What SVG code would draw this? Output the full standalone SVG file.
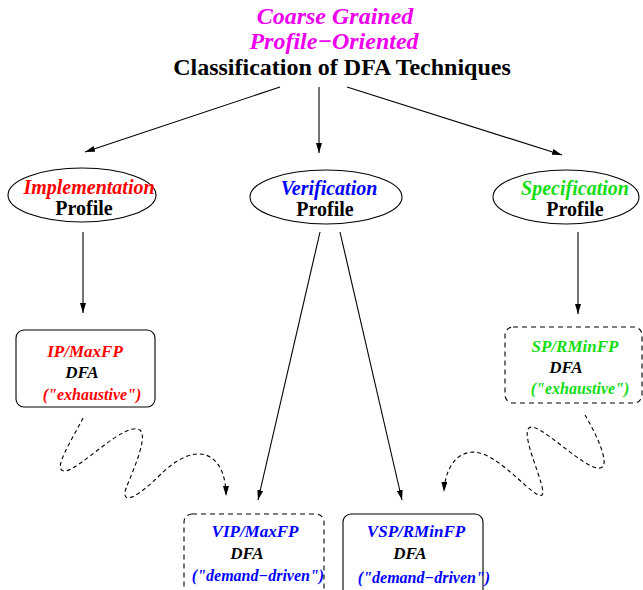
<svg xmlns="http://www.w3.org/2000/svg" width="643" height="590" viewBox="0 0 643 590">
<defs>
<marker id="ah" viewBox="0 0 10 6" refX="10" refY="3" markerWidth="10" markerHeight="6" markerUnits="userSpaceOnUse" orient="auto">
<path d="M0,0 L10,3 L0,6 Z" fill="#000"/>
</marker>
</defs>
<style>
text{font-family:"Liberation Serif","Times New Roman",serif;font-weight:bold;text-anchor:middle}
.i{font-style:italic}
.t{font-size:24px}
.e{font-size:20px}
.b{font-size:17px}
.s{font-size:16px}
.mg{fill:#ee00ee}
.rd{fill:#ff0000}
.bl{fill:#0000ff}
.gr{fill:#11dd11}
.k{fill:#000}
.shape{fill:#fff;stroke:#000;stroke-width:1.1}
.dash{stroke-dasharray:5,4}
.wdash{stroke-dasharray:4,3}
.conn{fill:none;stroke:#000;stroke-width:1.1}
</style>
<g id="title">
<text x="335" y="24" class="t i mg">Coarse Grained</text>
<text x="334" y="49" class="t i mg">Profile−Oriented</text>
<text x="342" y="75" class="t k">Classification of DFA Techniques</text>
</g>
<g id="impl">
<ellipse cx="82" cy="195" rx="74" ry="27" class="shape"/>
<text x="89" y="194" class="e i rd">Implementation</text>
<text x="84" y="215" class="e k">Profile</text>
</g>
<g id="verif">
<ellipse cx="326" cy="197" rx="76" ry="27" class="shape"/>
<text x="329" y="195" class="e i bl">Verification</text>
<text x="325" y="216" class="e k">Profile</text>
</g>
<g id="spec">
<ellipse cx="566" cy="197" rx="73" ry="27" class="shape"/>
<text x="575" y="195" class="e i gr">Specification</text>
<text x="575" y="216" class="e k">Profile</text>
</g>
<g id="ipmax">
<rect x="16" y="330" width="139" height="77" rx="8" class="shape"/>
<text x="85" y="357" class="b i rd">IP/MaxFP</text>
<text x="82" y="378" class="b i k">DFA</text>
<text x="92" y="400" class="s i rd">("exhaustive")</text>
</g>
<g id="sprmin">
<rect x="505" y="327" width="137" height="76" rx="8" class="shape dash"/>
<text x="575" y="352" class="b i gr">SP/RMinFP</text>
<text x="566" y="373" class="b i k">DFA</text>
<text x="580" y="394" class="s i gr">("exhaustive")</text>
</g>
<g id="vipmax">
<rect x="184" y="514" width="140" height="90" rx="8" class="shape dash"/>
<text x="255" y="537" class="b i bl">VIP/MaxFP</text>
<text x="247" y="559" class="b i k">DFA</text>
<text x="258" y="581" class="s i bl">("demand−driven")</text>
</g>
<g id="vsprmin">
<rect x="343" y="514" width="140" height="90" rx="8" class="shape"/>
<text x="416" y="537" class="b i bl">VSP/RMinFP</text>
<text x="410" y="559" class="b i k">DFA</text>
<text x="424" y="583" class="s i bl">("demand−driven")</text>
</g>
<g id="connectors">
<line x1="280" y1="87" x2="85" y2="152" class="conn" marker-end="url(#ah)"/>
<line x1="319" y1="87" x2="319" y2="153" class="conn" marker-end="url(#ah)"/>
<line x1="347" y1="87" x2="562" y2="155" class="conn" marker-end="url(#ah)"/>
<line x1="83" y1="232" x2="83" y2="313" class="conn" marker-end="url(#ah)"/>
<line x1="578" y1="232" x2="578" y2="314" class="conn" marker-end="url(#ah)"/>
<line x1="320" y1="232" x2="258" y2="500" class="conn" marker-end="url(#ah)"/>
<line x1="340" y1="232" x2="402" y2="500" class="conn" marker-end="url(#ah)"/>
<path d="M83,418 C72,440 52,470 64,471 C78,472 125,420 140,430 C150,438 126,485 125,492 C123,505 140,495 160,475 C175,460 195,448 210,457 C222,464 226,480 226,496" class="conn wdash" marker-end="url(#ah)"/>
<path d="M585,415 C595,432 612,466 600,468 C585,471 538,420 529,428 C520,436 548,490 542,495 C535,500 505,460 480,453 C460,448 445,465 444,492" class="conn wdash" marker-end="url(#ah)"/>
</g>
</svg>
